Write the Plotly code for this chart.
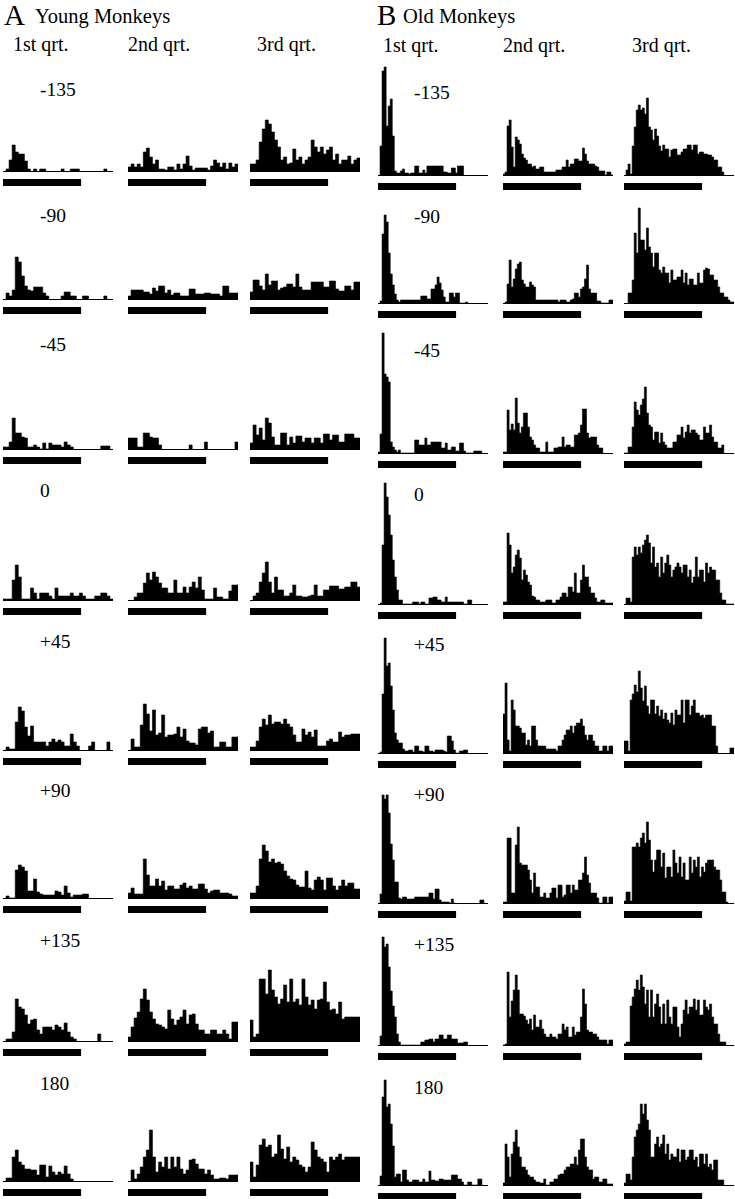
import plotly.graph_objects as go

# ---- data: PSTH bin heights ---------------------------------------------
ROW_LABELS = ["-135", "-90", "-45", "0", "+45", "+90", "+135", "180"]
QUARTERS = ["1st qrt.", "2nd qrt.", "3rd qrt."]

# young monkeys, 36 bins per histogram
young_m135_q1 = [0,3,12,27,20,18,18,11,3,0,3,0,3,3,0,0,0,0,0,3,0,0,3,3,3,0,0,0,0,0,0,0,0,3,0,0]
young_m135_q2 = [5,8,5,8,5,20,24,15,8,12,3,3,2,5,5,2,8,3,8,16,6,2,4,4,4,4,2,6,12,9,5,9,3,9,5,8]
young_m135_q3 = [8,8,12,30,43,52,48,40,32,25,12,15,8,9,23,12,15,8,12,15,32,25,20,25,18,22,25,12,18,8,12,12,16,8,12,14]
young_m90_q1 = [0,7,4,10,43,38,24,14,10,9,13,13,13,7,4,0,0,0,0,4,8,8,4,4,0,0,4,4,0,0,0,0,0,4,0,0]
young_m90_q2 = [4,10,10,10,10,8,8,6,12,9,14,14,7,10,5,7,7,4,4,4,11,11,6,6,6,7,7,6,6,6,4,14,14,7,7,7]
young_m90_q3 = [8,20,20,14,10,26,15,19,19,10,12,13,16,16,13,26,13,10,10,10,18,18,18,18,13,13,19,19,11,9,9,14,14,10,18,18]
young_m45_q1 = [3,3,8,32,17,17,13,12,3,3,5,3,1,7,1,7,5,5,5,3,8,5,3,0,0,0,0,0,0,0,0,0,4,4,4,0]
young_m45_q2 = [12,12,12,3,3,17,17,13,12,12,5,0,0,0,0,0,0,0,0,0,5,0,0,0,0,8,0,0,0,0,0,0,0,0,0,8]
young_m45_q3 = [7,25,15,22,10,32,27,13,5,5,17,17,5,13,7,14,14,8,12,12,7,12,12,7,16,16,10,15,15,8,8,16,16,16,12,12]
young_0_q1 = [2,2,2,21,36,24,2,2,2,13,8,2,8,8,8,5,2,13,5,5,5,5,8,5,5,8,5,2,2,2,5,5,8,8,5,2]
young_0_q2 = [0,0,4,8,8,18,28,21,29,24,18,13,13,8,8,21,8,8,14,8,14,19,13,24,11,2,2,2,13,4,4,2,2,10,16,16]
young_0_q3 = [0,5,8,19,28,39,19,8,24,11,11,5,5,8,16,5,5,4,4,5,6,16,5,5,11,11,15,15,15,12,12,14,14,19,19,14]
young_p45_q1 = [0,4,2,2,29,44,40,24,15,25,9,9,9,9,5,9,12,9,11,9,5,5,17,9,5,0,0,0,5,9,0,0,0,0,9,0]
young_p45_q2 = [0,12,4,4,26,47,37,20,41,16,18,36,14,16,16,17,24,14,22,10,8,8,6,22,24,24,18,20,4,4,9,9,4,4,14,14]
young_p45_q3 = [4,4,10,24,32,26,36,27,29,29,27,32,27,24,16,9,9,22,16,19,14,21,5,5,5,10,12,9,9,19,14,16,16,17,17,17]
young_p90_q1 = [0,3,1,1,29,34,32,28,8,8,20,7,5,4,4,4,4,8,7,4,13,6,2,4,4,4,5,5,0,0,0,0,0,0,0,0]
young_p90_q2 = [6,11,5,5,5,40,24,13,13,20,13,18,9,13,13,10,10,14,16,11,13,10,10,15,15,10,6,8,9,9,6,6,6,5,3,3]
young_p90_q3 = [6,6,13,40,54,48,37,40,36,37,35,28,23,20,19,14,12,12,28,11,9,19,22,19,9,21,21,13,9,13,19,13,16,16,10,10]
young_p135_q1 = [0,3,3,10,43,35,33,27,18,22,23,12,8,15,15,15,12,17,15,12,19,10,5,3,0,0,0,0,0,0,0,8,0,0,0,0]
young_p135_q2 = [5,15,24,30,43,53,42,30,23,18,17,15,13,32,23,17,22,25,32,18,27,28,18,12,12,8,8,12,12,8,8,12,8,3,20,20]
young_p135_q3 = [22,5,8,63,63,48,72,52,45,38,43,57,40,63,40,43,37,63,45,37,42,33,42,43,60,40,32,33,28,40,23,25,25,25,25,25]
young_180_q1 = [0,4,4,25,32,20,17,13,13,12,12,7,17,17,5,16,10,7,10,8,16,8,3,0,0,0,0,0,0,0,0,0,0,0,0,0]
young_180_q2 = [0,12,3,8,15,25,32,52,25,10,20,15,25,13,25,15,25,13,8,12,22,23,18,13,13,8,12,7,3,3,4,4,3,7,7,7]
young_180_q3 = [20,5,17,37,43,35,37,25,28,47,33,23,35,20,25,22,17,15,10,15,40,32,25,23,20,10,25,22,25,28,22,25,25,25,25,25]

# old monkeys, 54 bins per histogram
old_m135_q1 = [0,30,105,109,50,70,77,40,5,3,3,5,7,3,3,2,3,3,10,10,3,3,6,3,10,10,10,10,10,10,10,10,4,4,3,3,8,8,3,10,10,10,0,0,0,0,0,0,0,0,0,0,0,0]
old_m135_q2 = [2,4,50,56,29,9,39,36,32,22,18,16,12,12,9,10,7,7,9,9,4,4,4,4,4,4,6,6,6,9,9,16,9,12,12,17,17,15,15,28,22,15,12,12,12,10,9,5,5,5,1,4,4,1]
old_m135_q3 = [0,6,12,2,30,49,66,71,66,68,62,78,49,46,36,47,40,30,25,31,27,27,19,26,27,27,21,21,24,27,27,31,31,26,31,31,22,24,24,22,22,21,21,19,16,16,9,9,4,0,0,0,0,0]
old_m90_q1 = [0,3,70,89,82,51,30,19,10,4,2,4,4,4,4,4,4,4,4,4,4,8,8,8,5,5,15,15,19,27,21,14,7,2,2,11,11,7,11,11,1,1,1,2,0,0,0,0,0,0,0,0,0,0]
old_m90_q2 = [0,2,20,44,17,25,35,40,42,24,20,17,17,22,19,17,4,4,4,4,4,4,4,4,4,4,4,2,4,4,4,2,2,4,5,11,11,7,15,17,25,39,15,11,11,11,3,3,1,1,1,1,4,4]
old_m90_q3 = [0,0,11,11,24,71,51,96,64,64,54,76,57,51,37,51,51,34,31,37,31,31,21,34,24,24,27,27,34,21,31,19,25,25,19,19,31,21,21,34,36,35,29,29,24,24,17,11,11,7,7,4,2,2]
old_m45_q1 = [2,20,121,80,77,72,12,7,4,2,4,1,1,1,1,1,1,1,14,14,9,9,9,16,9,9,12,12,12,12,12,6,6,11,4,4,7,7,3,3,11,11,3,1,1,1,1,3,3,3,3,0,0,0]
old_m45_q2 = [2,2,44,24,30,24,56,31,21,27,41,41,27,17,14,9,6,6,2,2,2,12,2,2,2,6,6,7,7,17,7,9,9,7,7,19,19,21,29,45,45,21,16,17,17,17,9,6,6,0,0,0,0,0]
old_m45_q3 = [1,1,7,7,27,52,44,39,49,55,67,41,29,27,14,22,22,11,21,12,9,6,6,6,12,12,19,19,27,16,22,29,21,24,24,21,19,14,14,27,21,21,29,17,12,12,6,6,9,0,0,0,0,0]
old_0_q1 = [0,2,60,122,108,90,70,45,28,15,5,5,1,1,1,1,1,3,3,3,1,3,3,1,1,7,7,8,8,5,5,3,3,8,3,3,3,3,3,3,3,3,1,1,5,5,0,0,0,0,0,0,0,0]
old_0_q2 = [3,3,72,60,32,38,50,55,47,25,35,30,23,20,9,8,5,5,3,3,3,5,5,5,2,2,5,5,8,12,12,8,18,18,13,32,12,12,25,40,28,28,18,12,12,7,3,3,5,5,2,2,2,2]
old_0_q3 = [0,7,7,3,48,58,50,58,52,60,65,70,62,42,58,38,42,28,48,32,42,50,40,28,35,38,42,38,32,40,40,28,35,22,28,48,28,35,35,23,42,32,38,35,35,25,25,12,5,5,1,1,1,1]
old_p45_q1 = [0,2,60,116,88,91,68,44,21,14,11,11,5,3,3,4,4,2,8,8,3,3,2,8,8,3,3,2,4,4,4,4,3,2,18,18,13,4,1,1,3,3,4,4,0,0,0,0,0,0,0,0,0,0]
old_p45_q2 = [40,71,14,3,54,44,28,28,26,21,21,9,14,8,28,28,14,8,8,8,8,5,5,5,5,5,3,8,8,14,19,24,24,28,21,28,31,31,35,28,19,14,19,19,13,8,8,3,3,8,8,3,8,8]
old_p45_q3 = [13,13,3,54,60,69,62,83,66,53,68,48,40,54,54,40,48,38,44,35,41,34,31,41,29,44,39,39,54,31,54,54,39,48,54,41,41,38,39,36,39,39,39,28,28,8,0,0,0,0,0,0,6,6]
old_p90_q1 = [0,10,109,105,109,91,60,44,22,22,6,5,7,7,5,5,5,5,7,7,7,7,7,7,7,11,11,5,15,15,4,2,2,2,2,1,5,1,0,0,0,0,0,0,0,0,0,0,0,0,4,4,0,0]
old_p90_q2 = [2,2,66,66,11,11,59,77,41,39,39,39,34,24,11,31,17,17,7,7,11,6,6,11,16,16,6,19,19,7,9,19,19,11,19,14,14,24,24,31,47,29,21,11,11,11,6,1,1,7,7,1,7,7]
old_p90_q3 = [3,12,12,3,57,57,61,57,66,71,61,82,64,44,32,44,54,54,37,51,26,37,37,27,54,41,31,47,27,41,24,24,47,31,44,37,47,27,37,32,41,44,44,44,37,34,34,24,12,12,2,0,0,0]
old_p135_q1 = [0,10,109,99,102,79,55,40,29,12,4,1,1,1,1,1,1,1,1,1,1,4,4,6,6,7,7,4,7,7,11,11,7,7,11,11,7,7,7,3,3,3,4,4,0,0,0,0,0,0,0,0,0,0]
old_p135_q2 = [1,2,74,29,45,56,71,56,32,32,30,26,22,27,16,31,19,19,26,17,12,9,9,12,9,9,7,12,12,22,16,19,9,9,19,11,14,14,29,57,42,16,14,14,12,12,9,6,6,6,6,2,6,6]
old_p135_q3 = [2,4,4,40,49,57,66,56,71,59,42,56,29,56,29,42,52,39,22,42,22,46,29,22,39,39,19,9,22,36,46,32,39,39,47,36,46,31,31,46,39,36,42,29,22,22,12,4,4,4,0,0,0,0]
old_180_q1 = [0,10,89,106,79,82,62,40,9,12,12,4,16,16,6,4,4,6,6,6,4,4,7,4,4,15,6,6,5,5,7,7,6,6,6,6,11,11,11,7,7,4,1,1,4,4,1,1,1,7,7,0,0,0]
old_180_q2 = [3,42,29,9,32,44,56,39,29,19,19,16,11,9,9,6,4,4,3,3,7,1,1,4,4,7,7,11,12,12,16,19,19,22,22,29,21,36,47,47,29,19,16,16,7,9,9,4,4,7,7,2,2,2]
old_180_q3 = [3,12,12,6,29,49,56,62,82,72,82,66,56,29,29,42,49,39,42,51,32,42,26,32,29,29,37,24,36,36,26,29,36,36,26,29,19,32,32,22,32,19,22,16,26,26,6,6,6,0,0,0,0,0]

young = [
    [young_m135_q1, young_m135_q2, young_m135_q3],
    [young_m90_q1, young_m90_q2, young_m90_q3],
    [young_m45_q1, young_m45_q2, young_m45_q3],
    [young_0_q1, young_0_q2, young_0_q3],
    [young_p45_q1, young_p45_q2, young_p45_q3],
    [young_p90_q1, young_p90_q2, young_p90_q3],
    [young_p135_q1, young_p135_q2, young_p135_q3],
    [young_180_q1, young_180_q2, young_180_q3],
]
old = [
    [old_m135_q1, old_m135_q2, old_m135_q3],
    [old_m90_q1, old_m90_q2, old_m90_q3],
    [old_m45_q1, old_m45_q2, old_m45_q3],
    [old_0_q1, old_0_q2, old_0_q3],
    [old_p45_q1, old_p45_q2, old_p45_q3],
    [old_p90_q1, old_p90_q2, old_p90_q3],
    [old_p135_q1, old_p135_q2, old_p135_q3],
    [old_180_q1, old_180_q2, old_180_q3],
]

# ---- layout (pixels) ----------------------------------------------------
W, H = 735, 1199
BOX_W = 110      # width of one histogram
BOX_H = 125      # height of one histogram box, 1 unit = 1 px
BAR_FRAC = 0.71  # stimulus bar length relative to the trace
COL_X = [3, 128, 250, 378, 503, 624]
BASE_YOUNG = [172, 300, 450, 601, 751, 899, 1042, 1182]
BASE_OLD = [176, 304, 454, 605, 754, 904, 1046, 1186]
LABEL_Y_YOUNG = [90, 215, 345, 490, 641, 790, 941, 1083]
LABEL_Y_OLD = [93, 217, 350, 494, 644, 794, 944, 1087]
FONT = "Liberation Serif, Times New Roman, serif"


def py(y):
    """pixel row (from top) -> paper fraction"""
    return 1 - y / H


fig = go.Figure()
layout = {}
shapes = []
annotations = []

k = 0
for rows, bases, c0 in [(young, BASE_YOUNG, 0), (old, BASE_OLD, 3)]:
    for r, row in enumerate(rows):
        for q, vals in enumerate(row):
            k += 1
            sfx = "" if k == 1 else str(k)
            x0 = COL_X[c0 + q]
            base = bases[r]
            n = len(vals)
            fig.add_trace(
                go.Scatter(
                    x=list(range(n + 1)),
                    y=vals + [vals[-1]],
                    mode="lines",
                    line={"shape": "hv", "color": "black", "width": 0.6},
                    fill="tozeroy",
                    fillcolor="black",
                    xaxis="x" + sfx,
                    yaxis="y" + sfx,
                    hoverinfo="skip",
                    showlegend=False,
                )
            )
            layout["xaxis" + sfx] = dict(
                domain=[x0 / W, (x0 + BOX_W) / W], range=[0, n],
                visible=False, fixedrange=True,
            )
            layout["yaxis" + sfx] = dict(
                domain=[py(base), py(base - BOX_H)], range=[0, BOX_H],
                visible=False, fixedrange=True,
            )
            # zero line under the histogram
            shapes.append(dict(
                type="line", xref="x" + sfx, yref="y" + sfx,
                x0=0, x1=n, y0=0, y1=0, line={"color": "black", "width": 2},
            ))
            # stimulus bar
            shapes.append(dict(
                type="rect", xref="x" + sfx, yref="paper",
                x0=0, x1=n * BAR_FRAC, y0=py(base + 14), y1=py(base + 7),
                fillcolor="black", line={"width": 0},
            ))


def label(text, x, y, size):
    annotations.append(dict(
        text=text, x=x / W, y=py(y), xref="paper", yref="paper",
        xanchor="left", yanchor="middle", showarrow=False,
        font={"family": FONT, "size": size, "color": "black"},
    ))


label("A", 2, 15, 29)
label("Young Monkeys", 33, 16, 20.5)
label("B", 375, 15, 29)
label("Old Monkeys", 401, 16, 20.5)
for q, name in enumerate(QUARTERS):
    label(name, [11, 126, 255][q], 45, 20)
    label(name, [381, 501, 630][q], 46, 20)
for r, name in enumerate(ROW_LABELS):
    label(name, 38, LABEL_Y_YOUNG[r], 19.5)
    label(name, 412, LABEL_Y_OLD[r], 19.5)

fig.update_layout(
    width=W, height=H,
    margin={"l": 0, "r": 0, "t": 0, "b": 0},
    paper_bgcolor="white", plot_bgcolor="white",
    shapes=shapes, annotations=annotations,
    **layout,
)
# drop the browser's default 8px body margin so the figure sits at (0, 0)
fig.write_html(
    "out.html",
    config={"displayModeBar": False, "staticPlot": True},
    post_script="document.body.style.margin = '0';",
)
